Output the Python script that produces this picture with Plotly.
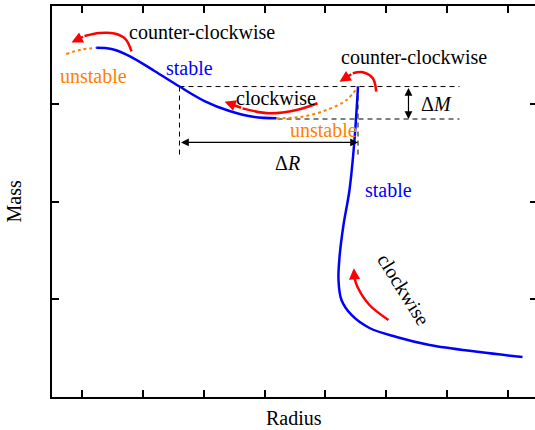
import plotly.graph_objects as go

# ---- curve data (Radius, Mass) in arbitrary units ----
left_unstable_r = [0.734, 0.981, 1.228]
left_unstable_m = [3.509, 3.553, 3.573]

left_stable_r = [1.228, 1.479, 1.776, 2.187, 2.599, 3.010, 3.422, 3.833, 4.195]
left_stable_m = [3.573, 3.560, 3.488, 3.335, 3.176, 3.028, 2.926, 2.864, 2.851]

mid_unstable_r = [4.195, 4.623, 5.019, 5.348, 5.537]
mid_unstable_m = [2.851, 2.868, 2.936, 3.038, 3.176]

right_stable_r = [5.537, 5.479, 5.397, 5.298, 5.233, 5.216, 5.265, 5.430, 5.726,
                  6.171, 6.714, 7.537, 8.245]
right_stable_m = [3.176, 2.629, 2.118, 1.760, 1.432, 1.197, 0.992, 0.839, 0.706,
                  0.614, 0.532, 0.460, 0.409]

# ---- red direction arrows ----
arrow_tl_r = [1.809, 1.710, 1.529, 1.282, 1.035, 0.821]
arrow_tl_m = [3.535, 3.662, 3.719, 3.724, 3.693, 3.627]
arrow_mid_r = [4.870, 4.525, 4.080, 3.636, 3.340]
arrow_mid_m = [3.005, 2.936, 2.902, 2.953, 3.021]
arrow_tr_r = [5.837, 5.781, 5.616, 5.451, 5.233]
arrow_tr_m = [3.123, 3.260, 3.322, 3.312, 3.226]
arrow_bot_r = [6.039, 5.726, 5.529, 5.479, 5.468]
arrow_bot_m = [0.788, 0.941, 1.125, 1.217, 1.317]

# ---- Delta M / Delta R guides ----
m_top = 3.176
m_bot = 2.844
r_left = 2.599
r_right = 5.537
guide_end_r = 7.208
m_bot_start_r = 4.212
drop_end_m = 2.466
dR_level = 2.604
dM_pos = 6.368

x_ticks = [1, 2, 3, 4, 5, 6, 7, 8]
y_ticks = [0, 1, 2, 3, 4]

BLUE = "#0000FF"
ORANGE = "#FF8000"
RED = "#FF0000"
FONT = "Liberation Serif"
FS = 20

fig = go.Figure()

def line(x, y, color, width, dash="solid", shape="spline", yaxis="y"):
    fig.add_trace(go.Scatter(x=x, y=y, mode="lines", yaxis=yaxis,
                             line=dict(color=color, width=width, dash=dash, shape=shape),
                             showlegend=False, hoverinfo="skip"))

# dashed guides
DASH = "5px,4px"
line([r_left, guide_end_r], [m_top, m_top], "black", 1, DASH, "linear")
line([m_bot_start_r, guide_end_r], [m_bot, m_bot], "black", 1, DASH, "linear")
line([r_left, r_left], [m_top, drop_end_m], "black", 1, DASH, "linear")
line([r_right, r_right], [m_top, drop_end_m], "black", 1, DASH, "linear")

# curve
line(left_unstable_r, left_unstable_m, ORANGE, 2, "dot")
line(mid_unstable_r, mid_unstable_m, ORANGE, 2, "dot")
line(left_stable_r, left_stable_m, BLUE, 2.5)
line(right_stable_r, right_stable_m, BLUE, 2.5)

# red arrows
annotations = []
for ar, am in [(arrow_tl_r, arrow_tl_m), (arrow_mid_r, arrow_mid_m),
               (arrow_tr_r, arrow_tr_m), (arrow_bot_r, arrow_bot_m)]:
    line(ar[:-1], am[:-1], RED, 2.5)
    annotations.append(dict(x=ar[-1], y=am[-1], ax=ar[-2], ay=am[-2],
                            xref="x", yref="y", axref="x", ayref="y", text="",
                            showarrow=True, arrowhead=2, arrowsize=0.9,
                            arrowwidth=2.5, arrowcolor=RED, standoff=0))

# invisible trace for the right-side tick axis
fig.add_trace(go.Scatter(x=[None], y=[None], yaxis="y2", showlegend=False))

# double arrows
annotations.append(dict(x=r_right, y=dR_level, ax=r_left, ay=dR_level,
                        xref="x", yref="y", axref="x", ayref="y", text="",
                        showarrow=True, arrowhead=2, startarrowhead=2, arrowside="end+start",
                        arrowsize=1.3, arrowwidth=1.2, arrowcolor="black",
                        standoff=0, startstandoff=0))
annotations.append(dict(x=dM_pos, y=m_bot, ax=dM_pos, ay=m_top,
                        xref="x", yref="y", axref="x", ayref="y", text="",
                        showarrow=True, arrowhead=2, startarrowhead=2, arrowside="end+start",
                        arrowsize=1.3, arrowwidth=1.2, arrowcolor="black",
                        standoff=0, startstandoff=0))

texts = [
    ("counter-clockwise", 2.961, 3.734, "black", 0),
    ("unstable", 1.175, 3.287, ORANGE, 0),
    ("stable", 2.763, 3.366, BLUE, 0),
    ("clockwise", 4.195, 3.059, "black", 0),
    ("unstable", 4.961, 2.731, ORANGE, 0),
    ("counter-clockwise", 6.459, 3.478, "black", 0),
    ("Δ<i>M</i>", 6.829, 2.997, "black", 0),
    ("Δ<i>R</i>", 4.377, 2.394, "black", 0),
    ("stable", 6.047, 2.118, BLUE, 0),
    ("clockwise", 6.286, 1.105, "black", 58),
]
for t, x, y, c, ang in texts:
    annotations.append(dict(x=x, y=y, xref="x", yref="y", text=t, showarrow=False,
                            textangle=ang, font=dict(family=FONT, size=FS, color=c)))

annotations.append(dict(x=0.5, y=0, xref="paper", yref="paper", text="Radius",
                        showarrow=False, yanchor="top", yshift=-8,
                        font=dict(family=FONT, size=FS, color="black")))
annotations.append(dict(x=0, y=0.5, xref="paper", yref="paper", text="Mass",
                        showarrow=False, xanchor="right", xshift=-26, textangle=-90,
                        font=dict(family=FONT, size=FS, color="black")))

x_lo = 0.5
x_hi = 0.5 + 483 / 60.75

fig.update_layout(
    width=535, height=430,
    margin=dict(l=52, r=0, t=6, b=33),
    paper_bgcolor="white", plot_bgcolor="white",
    font=dict(family=FONT),
    annotations=annotations,
    xaxis=dict(range=[x_lo, x_hi], tickvals=x_ticks, showticklabels=False,
               ticks="inside", ticklen=7, tickwidth=1.5, tickcolor="black",
               showline=True, linecolor="black", linewidth=1.5, mirror="ticks",
               showgrid=False, zeroline=False),
    yaxis=dict(range=[0, 4], tickvals=y_ticks, showticklabels=False,
               ticks="inside", ticklen=7, tickwidth=1.5, tickcolor="black",
               showline=True, linecolor="black", linewidth=1.5, mirror=False,
               showgrid=False, zeroline=False),
    yaxis2=dict(range=[0, 4], tickvals=y_ticks, showticklabels=False, overlaying="y",
                side="right", ticks="inside", ticklen=5, tickwidth=1.5, tickcolor="black",
                showline=False, showgrid=False, zeroline=False),
)

fig.write_html("out.html")
